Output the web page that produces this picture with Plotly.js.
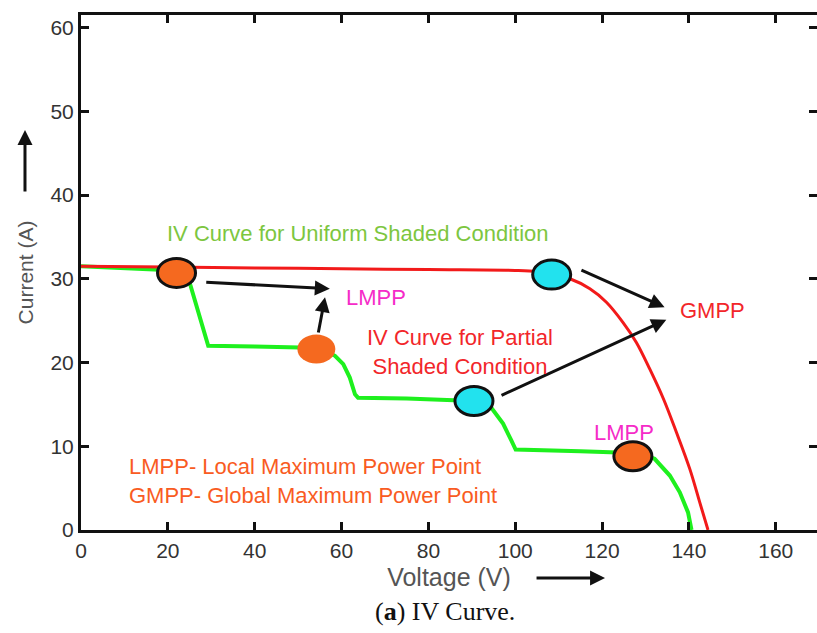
<!DOCTYPE html>
<html>
<head>
<meta charset="utf-8">
<script src="https://cdn.plot.ly/plotly-3.0.1.min.js"></script>
<style>html,body{margin:0;padding:0;background:#fff;}#chart{width:817px;height:633px;}</style>
</head>
<body>
<div id="chart"></div>
<script>
// IV curve under uniform (non-partial) shading – red
const uniformV = [0, 20, 40, 60, 80, 100, 105, 108.4, 112.6, 117.2, 121.0, 124.8, 127.9, 131.0, 134.1, 137.1, 140.2, 142.5, 144.4];
const uniformI = [31.5, 31.4, 31.3, 31.2, 31.1, 31.0, 30.85, 30.5, 30.0, 28.8, 27.2, 24.8, 22.4, 19.2, 15.7, 11.7, 7.3, 3.3, 0];

// IV curve under partial shading – green
const partialV = [0, 22, 25.1, 29.3, 40, 50.4, 54.2, 56.5, 58.5, 60.4, 61.9, 63.1, 63.8, 75, 90.5, 92.8, 94.5, 97.2, 99.1, 100.1, 115, 127.1, 129.8, 132.1, 135.6, 137.9, 139.8, 140.6];
const partialI = [31.5, 31.0, 29.4, 22.0, 21.9, 21.8, 21.6, 21.3, 20.8, 19.8, 18.2, 16.2, 15.8, 15.7, 15.4, 15.1, 14.6, 12.7, 10.7, 9.6, 9.4, 9.2, 8.9, 8.5, 6.5, 4.5, 2.1, 0];

// Power points marked on the curves
const ptV     = [22.0, 54.2, 108.4, 90.5, 127.1];
const ptI     = [30.7, 21.6, 30.5, 15.4, 8.8];
const ptKind  = ["LMPP", "LMPP", "GMPP", "GMPP", "LMPP"];
const ptEdge  = [true, false, true, true, true];

// Arrows: tail -> head
const arrowTailV = [28.5, 54.6, 114.9, 96.5];
const arrowTailI = [29.6, 23.4, 31.1, 16.0];
const arrowHeadV = [57.3, 56.2, 134.4, 134.8];
const arrowHeadI = [28.8, 27.8, 26.6, 25.1];

// Tick labels
const xTicks = [0, 20, 40, 60, 80, 100, 120, 140, 160];
const yTicks = [0, 10, 20, 30, 40, 50, 60];

const ORANGE = "#F5691F", CYAN = "#22E2EE";
const sans = "Liberation Sans, Arial, sans-serif";

const traces = [
  {x: partialV, y: partialI, mode: "lines", line: {color: "#1EF01E", width: 4}, name: "Partial shaded", hoverinfo: "skip"},
  {x: uniformV, y: uniformI, mode: "lines", line: {color: "#F21A1A", width: 3, shape: "spline", smoothing: 1}, name: "Uniform shaded", hoverinfo: "skip"}
];

const shapes = ptV.map((v, i) => ({
  type: "circle", xref: "x", yref: "y",
  xsizemode: "pixel", ysizemode: "pixel",
  xanchor: v, yanchor: ptI[i],
  x0: -19, x1: 19, y0: -14.5, y1: 14.5,
  fillcolor: ptKind[i] === "LMPP" ? ORANGE : CYAN,
  line: {color: ptEdge[i] ? "#111" : "rgba(0,0,0,0)", width: ptEdge[i] ? 3 : 0},
  layer: "above"
}));

const arrows = arrowHeadV.map((v, i) => ({
  x: v, y: arrowHeadI[i], ax: arrowTailV[i], ay: arrowTailI[i],
  xref: "x", yref: "y", axref: "x", ayref: "y",
  text: "", showarrow: true, arrowhead: 2, arrowsize: 1, arrowwidth: 3, arrowcolor: "#111"
}));

const labelFont = (c) => ({family: sans, size: 22, color: c});
const texts = [
  {x: 63.8, y: 35.4, text: "IV Curve for Uniform Shaded Condition", font: labelFont("#7DC63F")},
  {x: 67.9, y: 27.8, text: "LMPP", font: labelFont("#F52BC8")},
  {x: 145.5, y: 26.2, text: "GMPP", font: labelFont("#F2262A")},
  {x: 87.3, y: 21.2, text: "IV Curve for Partial<br>Shaded Condition", font: labelFont("#F2262A")},
  {x: 125.0, y: 11.6, text: "LMPP", font: labelFont("#F52BC8")},
  {x: 10.6, y: 5.9, text: "LMPP- Local Maximum Power Point<br>GMPP- Global Maximum Power Point", font: labelFont("#F95B22"), xanchor: "left", align: "left"}
].map(t => Object.assign({xref: "x", yref: "y", showarrow: false}, t));

const outside = [
  // arrow next to y-axis title
  {xref: "paper", yref: "paper", x: -0.0761, y: 0.7767, ax: 0, ay: 63, text: "", showarrow: true, arrowhead: 2, arrowsize: 1, arrowwidth: 3, arrowcolor: "#111"},
  // arrow next to x-axis title
  {xref: "paper", yref: "paper", x: 0.712, y: -0.0932, ax: -70, ay: 0, text: "", showarrow: true, arrowhead: 2, arrowsize: 1, arrowwidth: 3, arrowcolor: "#111"},
  // caption
  {xref: "paper", yref: "paper", x: 0.4946, y: -0.159, yanchor: "middle", text: "(<b>a</b>) IV Curve.", showarrow: false,
   font: {family: "Liberation Serif, Times New Roman, serif", size: 26, color: "#111"}}
];

const axisCommon = {
  showgrid: false, zeroline: false, showline: true, linecolor: "#111", linewidth: 3,
  mirror: "ticks", ticks: "inside", ticklen: 8, tickwidth: 3, tickcolor: "#111",
  tickfont: {family: sans, size: 21, color: "#333"}
};

const layout = {
  width: 817, height: 633,
  margin: {l: 81, r: 0, t: 15, b: 103},
  paper_bgcolor: "#fff", plot_bgcolor: "#fff",
  showlegend: false,
  xaxis: Object.assign({}, axisCommon, {
    range: [0, 169.5], tickvals: xTicks, ticktext: xTicks.map(String),
    title: {text: "Voltage (V)", font: {family: sans, size: 25, color: "#555"}, standoff: 8}
  }),
  yaxis: Object.assign({}, axisCommon, {
    range: [0, 61.5], tickvals: yTicks, ticktext: yTicks.map(String),
    title: {text: "Current (A)", font: {family: sans, size: 21, color: "#555"}, standoff: 12}
  }),
  shapes: shapes,
  annotations: arrows.concat(texts, outside)
};

Plotly.newPlot("chart", traces, layout, {staticPlot: true});
</script>
</body>
</html>
